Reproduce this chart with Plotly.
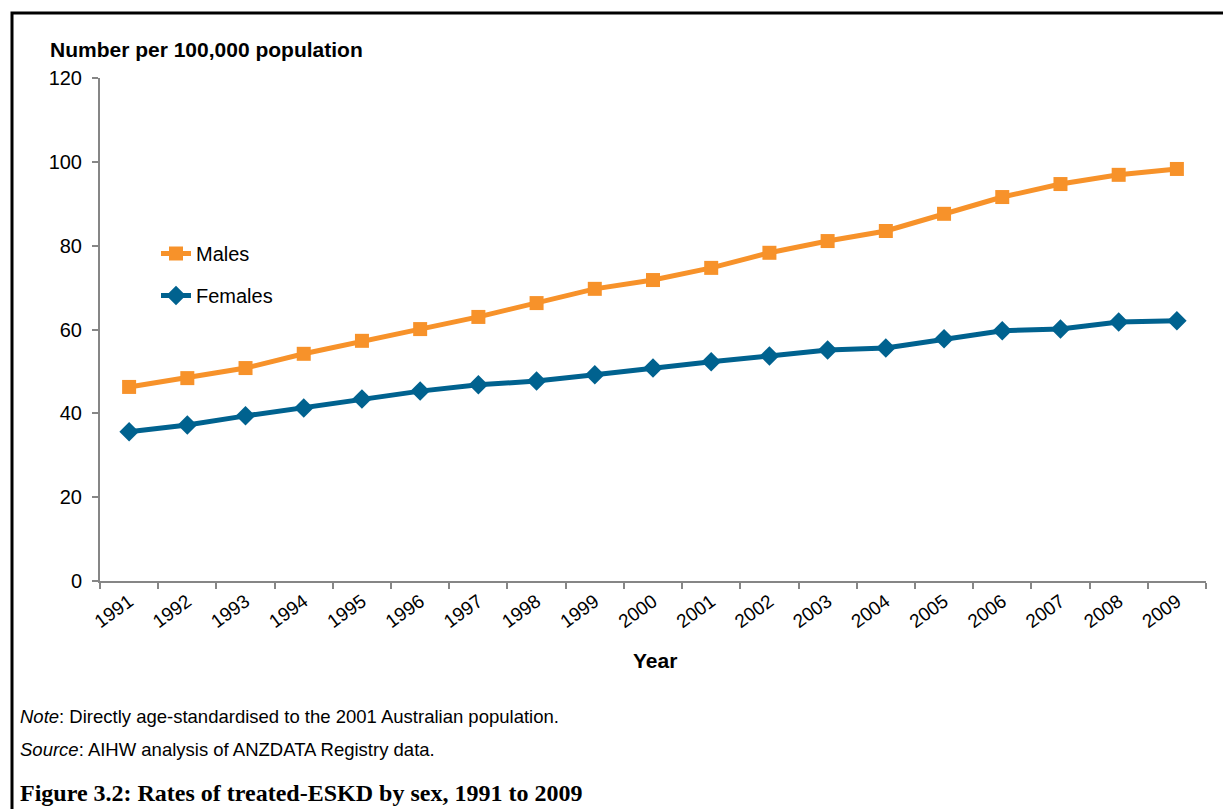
import plotly.graph_objects as go

years = [str(y) for y in range(1991, 2010)]
males = [46.3, 48.4, 50.8, 54.2, 57.3, 60.1, 63.0, 66.3, 69.7, 71.8,
         74.7, 78.3, 81.1, 83.5, 87.6, 91.6, 94.7, 96.9, 98.3]
females = [35.6, 37.2, 39.4, 41.3, 43.4, 45.3, 46.8, 47.7, 49.2, 50.8,
           52.3, 53.7, 55.1, 55.6, 57.8, 59.7, 60.1, 61.8, 62.1]
y_ticks = [0, 20, 40, 60, 80, 100, 120]

ORANGE = "#F7922A"
BLUE = "#00628F"
AXIS = "#868686"
FONT = "Liberation Sans, Arial, sans-serif"

# Plot area in pixels (figure is 1223 x 809)
L, R, T, B = 100, 1206, 78, 581
W, H = R - L, B - T


def px(x):
    return (x - L) / W


def py(y):
    return (B - y) / H


fig = go.Figure()
fig.add_trace(go.Scatter(
    x=years, y=males, name="Males", mode="lines+markers",
    line=dict(color=ORANGE, width=5),
    marker=dict(symbol="square", size=14, color=ORANGE),
    legendgroup="m",
))
fig.add_trace(go.Scatter(
    x=years, y=females, name="Females", mode="lines+markers",
    line=dict(color=BLUE, width=5),
    marker=dict(symbol="diamond", size=15, color=BLUE),
    legendgroup="f",
))

fig.update_layout(
    width=1223, height=809,
    margin=dict(l=L, r=1223 - R, t=T, b=809 - B),
    paper_bgcolor="white", plot_bgcolor="white",
    font=dict(family=FONT, color="black", size=20),
    showlegend=True,
    legend=dict(
        x=px(156), y=py(234), xanchor="left", yanchor="top",
        bgcolor="rgba(0,0,0,0)", font=dict(size=20, family=FONT),
        traceorder="grouped", tracegroupgap=13,
    ),
    xaxis=dict(
        type="category", tickson="boundaries",
        showline=True, linecolor=AXIS, linewidth=2,
        ticks="outside", ticklen=6, tickwidth=2, tickcolor=AXIS,
        tickangle=-36, tickfont=dict(size=19, family=FONT),
        showgrid=False, zeroline=False, range=[-0.5, 18.5],
    ),
    yaxis=dict(
        range=[0, 120], tickvals=y_ticks,
        showline=True, linecolor=AXIS, linewidth=2,
        ticks="outside", ticklen=6, tickwidth=2, tickcolor=AXIS,
        tickfont=dict(size=20, family=FONT),
        showgrid=False, zeroline=False, ticklabelstandoff=6,
    ),
)

ann = [
    dict(text="<b>Number per 100,000 population</b>", x=px(48), y=py(49),
         xanchor="left", yanchor="middle", font=dict(size=21)),
    dict(text="<b>Year</b>", x=px(655), y=py(660),
         xanchor="center", yanchor="middle", font=dict(size=21)),
    dict(text="<i>Note</i>: Directly age-standardised to the 2001 Australian population.",
         x=px(18), y=py(716), xanchor="left", yanchor="middle", font=dict(size=18.5)),
    dict(text="<i>Source</i>: AIHW analysis of ANZDATA Registry data.",
         x=px(18), y=py(749), xanchor="left", yanchor="middle", font=dict(size=18.5)),
    dict(text="<b>Figure 3.2: Rates of treated-ESKD by sex, 1991 to 2009</b>",
         x=px(18), y=py(808), xanchor="left", yanchor="bottom",
         font=dict(size=24, family="Liberation Serif, Times New Roman, serif")),
]
for a in ann:
    fig.add_annotation(xref="paper", yref="paper", showarrow=False, **a)

# Frame around the whole figure
fig.add_shape(type="rect", xref="paper", yref="paper",
              x0=px(12), x1=px(1240), y0=py(830), y1=py(13),
              line=dict(color="black", width=3), fillcolor="rgba(0,0,0,0)",
              layer="below")

fig.write_html("out.html")
